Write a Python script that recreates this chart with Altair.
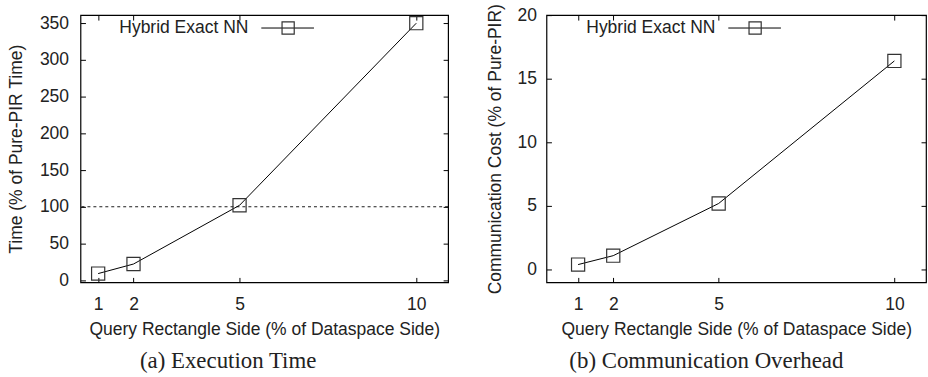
import altair as alt
import pandas as pd

# ---- data ----
query_side = [1, 2, 5, 10]                 # x: Query Rectangle Side (% of Dataspace Side)
time_pct = [9, 22, 102, 350]               # (a) Time (% of Pure-PIR Time)
comm_pct = [0.4, 1.1, 5.2, 16.4]           # (b) Communication Cost (% of Pure-PIR)
x_ticks = [1, 2, 5, 10]
time_ticks = [0, 50, 100, 150, 200, 250, 300, 350]
comm_ticks = [0, 5, 10, 15, 20]
time_reference = [100]                     # dashed line at 100 %
series_name = ["Hybrid Exact NN"]

SANS = "Liberation Sans"
SERIF = "Liberation Serif"
TXT = "#222222"
FS = 17.6
TICK = 5


def panel(yvals, ydomain, yticks, xdomain, width, ytitle, caption,
          ylabpad, ytitlepad, legend_x, ref=None):
    df = pd.DataFrame({"x": query_side, "y": yvals})
    xs = alt.Scale(domain=xdomain, nice=False, zero=False)
    ys = alt.Scale(domain=ydomain, nice=False, zero=False)

    common = dict(offset=-TICK, tickSize=TICK, domain=False, grid=False,
                  tickColor="black", tickWidth=1,
                  labelFont=SANS, labelFontSize=FS, labelColor=TXT,
                  titleFont=SANS, titleFontSize=FS, titleColor=TXT,
                  titleFontWeight="normal")

    x_bottom = alt.X("x:Q", scale=xs, axis=alt.Axis(
        orient="bottom", values=x_ticks, title="Query Rectangle Side (% of Dataspace Side)",
        labelPadding=13, titlePadding=8, **common))
    y_left = alt.Y("y:Q", scale=ys, axis=alt.Axis(
        orient="left", values=yticks, title=ytitle,
        labelPadding=ylabpad, titlePadding=ytitlepad, **common))
    x_top = alt.X("x:Q", scale=xs, axis=alt.Axis(
        orient="top", values=x_ticks, labels=False, title=None, **common))
    y_right = alt.Y("y:Q", scale=ys, axis=alt.Axis(
        orient="right", values=yticks, labels=False, title=None, **common))

    base = alt.Chart(df)
    line = base.mark_line(color="black", strokeWidth=1).encode(x=x_bottom, y=y_left)
    pts = base.mark_point(shape="square", size=175, filled=False, color="#333333",
                          strokeWidth=1.2, opacity=1).encode(x=x_top, y=y_right)

    layers = []
    if ref is not None:
        rule = alt.Chart(pd.DataFrame({"y": ref})).mark_rule(
            color="black", strokeWidth=0.9, strokeDash=[3, 3]
        ).encode(y=alt.Y("y:Q", scale=ys, axis=None))
        layers.append(rule)
    layers += [line, pts]

    leg = alt.Chart(pd.DataFrame({"name": series_name}))
    leg_text = leg.mark_text(align="right", baseline="middle", font=SANS,
                             fontSize=FS, color=TXT).encode(
        text="name:N", x=alt.value(legend_x), y=alt.value(13))
    leg_rule = leg.mark_rule(color="black", strokeWidth=1).encode(
        x=alt.value(legend_x + 13), x2=alt.value(legend_x + 66), y=alt.value(13))
    leg_pt = leg.mark_point(shape="square", size=150, filled=False, color="#333333",
                            strokeWidth=1.2, opacity=1).encode(
        x=alt.value(legend_x + 40), y=alt.value(13))
    layers += [leg_rule, leg_pt, leg_text]

    return alt.layer(*layers).resolve_axis(x="independent", y="independent").properties(
        width=width, height=269,
        title=alt.TitleParams(caption, orient="bottom", font=SERIF, fontSize=23,
                              fontWeight="normal", color=TXT, offset=12,
                              anchor="middle", frame="bounds"),
    )


left = panel(time_pct, [-3, 361], time_ticks, [0.5, 10.9], 370,
             "Time (% of Pure-PIR Time)", "(a) Execution Time",
             ylabpad=12, ytitlepad=14, legend_x=169, ref=time_reference)
right = panel(comm_pct, [-1, 20], comm_ticks, [0.1, 10.9], 382,
              "Communication Cost (% of Pure-PIR)", "(b) Communication Overhead",
              ylabpad=10, ytitlepad=13, legend_x=170)

chart = alt.hconcat(left, right, spacing=35).properties(
    padding={"left": 7, "top": 1, "right": 0, "bottom": 0},
    background="white",
).configure_view(stroke="black", strokeWidth=1.2)

chart.save("out.html", embed_options={"renderer": "svg", "actions": False})
